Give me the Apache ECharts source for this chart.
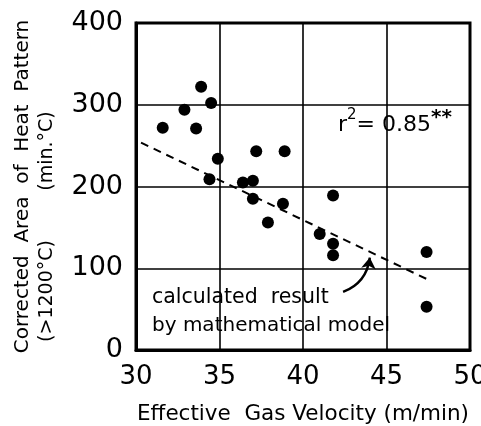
<!DOCTYPE html>
<html><head><meta charset="utf-8">
<script src="https://cdn.jsdelivr.net/npm/echarts@6/dist/echarts.min.js"></script>
<style>html,body{margin:0;padding:0;background:#fff}#c{width:481px;height:426px}</style>
</head><body><div id="c"></div>
<script>
const xTicks = [30, 35, 40, 45, 50];
const yTicks = [0, 100, 200, 300, 400];
const velocity = [31.6, 32.9, 33.9, 33.6, 34.5, 34.9, 34.4, 36.4, 37.0, 37.2, 37.0, 38.9, 38.8, 41.8, 37.9, 41.0, 41.8, 41.8, 47.4, 47.4];
const heatArea = [272, 294, 322, 271, 302, 234, 209, 205, 207, 243, 185, 243, 179, 189, 156, 142, 130, 116, 120, 53];
const modelX = [30.3, 47.7];
const modelY = [253.6, 84];
const arrowFrom = [42.4, 71];
const arrowTo = [44.0, 113];

const FONT = 'DejaVu Sans';
const chart = echarts.init(document.getElementById('c'));
chart.setOption({
  animation: false,
  backgroundColor: '#fff',
  grid: {left: 136, right: 11, top: 23, bottom: 76, containLabel: false, outerBoundsMode: 'none'},
  xAxis: {
    type: 'value', min: 30, max: 50, interval: 5,
    name: 'Effective  Gas Velocity (m/min)', nameLocation: 'middle', nameGap: 53,
    nameTextStyle: {fontFamily: FONT, fontSize: 21.5, color: '#000'},
    axisLine: {show: true, lineStyle: {color: '#000', width: 3}},
    axisTick: {show: false},
    axisLabel: {fontFamily: FONT, fontSize: 26, color: '#000', margin: 14},
    splitLine: {show: true, lineStyle: {color: '#000', width: 1.6}}
  },
  yAxis: {
    type: 'value', min: 0, max: 400, interval: 100,
    name: 'Corrected  Area  of  Heat  Pattern', nameLocation: 'middle', nameGap: 103, nameRotate: 90,
    nameTextStyle: {fontFamily: FONT, fontSize: 20, color: '#000'},
    axisLine: {show: true, lineStyle: {color: '#000', width: 3}},
    axisTick: {show: false},
    axisLabel: {fontFamily: FONT, fontSize: 27, color: '#000', margin: 13},
    splitLine: {show: true, lineStyle: {color: '#000', width: 1.6}}
  },
  graphic: [
    {type: 'rect', shape: {x: 136, y: 23, width: 334, height: 327}, style: {fill: 'none', stroke: '#000', lineWidth: 3}, z: 100},
    {type: 'text', x: 47, y: 151, rotation: Math.PI/2, style: {text: '(min.°C)', font: '19px "DejaVu Sans"', fill: '#000', align: 'center', verticalAlign: 'middle'}},
    {type: 'text', x: 47, y: 291, rotation: Math.PI/2, style: {text: '(>1200°C)', font: '19px "DejaVu Sans"', fill: '#000', align: 'center', verticalAlign: 'middle'}},
    {type: 'text', x: 338, y: 125, style: {rich: {a: {fontFamily: FONT, fontSize: 22, fill: '#000'}, s: {fontFamily: FONT, fontSize: 15, fill: '#000', verticalAlign: 'top', padding: [0,0,14,0]}, t: {fontFamily: FONT, fontSize: 20, fontWeight: 'bold', fill: '#000', padding: [0,0,14,0]}}, text: '{a|r}{s|2}{a|= 0.85}{t|**}', verticalAlign: 'middle'}},
    {type: 'text', x: 152, y: 298, style: {text: 'calculated  result', font: '20.5px "DejaVu Sans"', fill: '#000', verticalAlign: 'middle'}},
    {type: 'text', x: 152, y: 326, style: {text: 'by mathematical model', font: '20px "DejaVu Sans"', fill: '#000', verticalAlign: 'middle'}}
  ],
  series: [
    {type: 'scatter', data: velocity.map((v, i) => [v, heatArea[i]]), symbolSize: 12, itemStyle: {color: '#000', opacity: 1}, z: 5},
    {type: 'line', data: modelX.map((v, i) => [v, modelY[i]]), showSymbol: false, symbol: 'none',
     lineStyle: {color: '#000', width: 2, type: [8, 6]}, z: 4},
    {type: 'lines', coordinateSystem: 'cartesian2d', symbol: ['none', 'arrow'], symbolSize: 11,
     data: [{coords: [arrowFrom, arrowTo]}], lineStyle: {color: '#000', width: 2.5, curveness: -0.3, opacity: 1}, z: 6}
  ]
});
</script></body></html>
